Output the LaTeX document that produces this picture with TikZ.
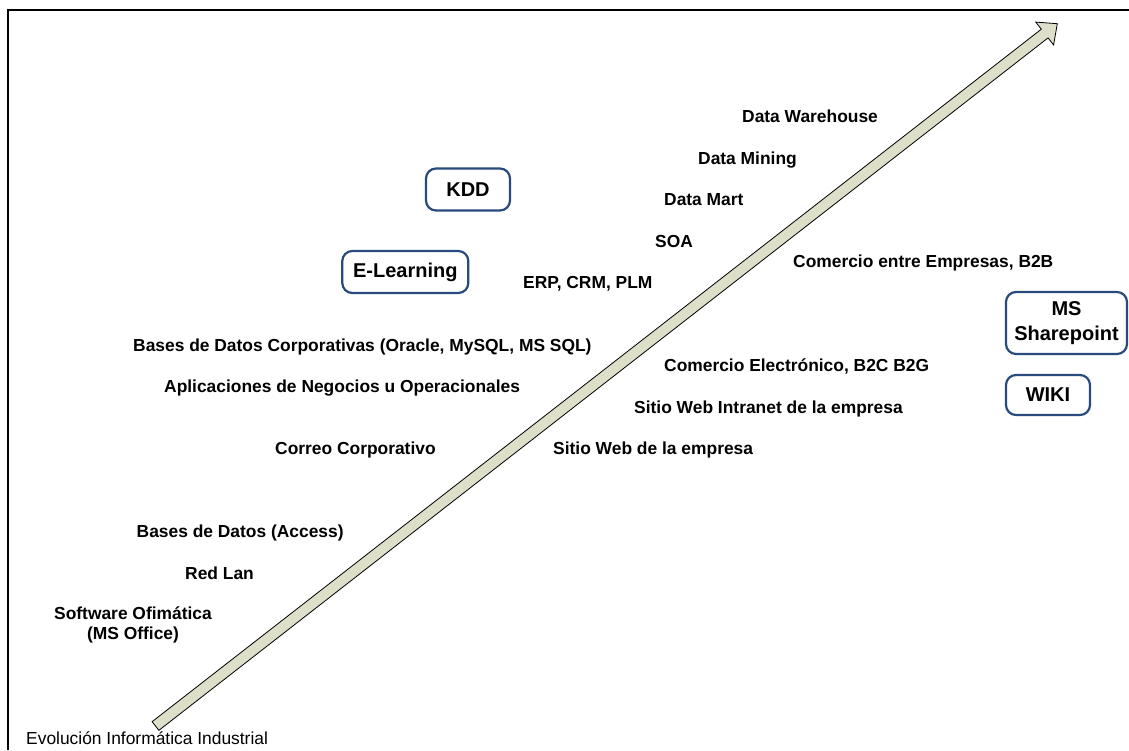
\documentclass[tikz,border=0pt]{standalone}
\usepackage{fontspec}
\setmainfont{Liberation Sans}
\usetikzlibrary{calc}
\definecolor{boxblue}{RGB}{40,74,125}
\definecolor{arrowfill}{RGB}{221,223,200}
\begin{document}
\begin{tikzpicture}[x=1pt,y=-1pt,
  lbl/.style={font=\bfseries\fontsize{17.4}{19.5}\selectfont, inner sep=0pt, anchor=base west},
  plainlbl/.style={font=\fontsize{17.4}{19.5}\selectfont, inner sep=0pt, anchor=base west},
  rbox/.style={draw=boxblue, line width=2.2pt, rounded corners=10pt, align=center,
    font=\bfseries\fontsize{20}{25}\selectfont, inner sep=0pt},
  bigarrow/.style={fill=arrowfill, draw=black, line width=0.8pt, line join=miter}]
\useasboundingbox (0,0) rectangle (1129,750);
% frame
\draw[line width=2pt] (7.5,750) -- (7.5,10) -- (1129,10);
% big arrow
\coordinate (tail) at (155.5,726);
\coordinate (tip) at (1057.3,23.7);
\coordinate (hb) at ($(tip)!16pt!(tail)$);
\draw[bigarrow] ($(tail)!5.5pt!90:(tip)$) -- ($(hb)!5.5pt!-90:(tail)$) -- ($(hb)!14.5pt!-90:(tail)$)
  -- (tip) -- ($(hb)!14.5pt!90:(tail)$) -- ($(hb)!5.5pt!90:(tail)$) -- ($(tail)!5.5pt!-90:(tip)$) -- cycle;
% labels
\node[lbl] (dw) at (742,122) {Data Warehouse};
\node[lbl] (dmin) at (698,164) {Data Mining};
\node[lbl] (dmart) at (664,205) {Data Mart};
\node[lbl] (soa) at (655,247) {SOA};
\node[lbl] (erp) at (523,288) {ERP, CRM, PLM};
\node[lbl] (b2b) at (793,267) {Comercio entre Empresas, B2B};
\node[lbl] (bdc) at (133,351) {Bases de Datos Corporativas (Oracle, MySQL, MS SQL)};
\node[lbl] (apl) at (164,392) {Aplicaciones de Negocios u Operacionales};
\node[lbl] (b2c) at (664,371) {Comercio Electrónico, B2C B2G};
\node[lbl] (intra) at (634,413) {Sitio Web Intranet de la empresa};
\node[lbl] (correo) at (275,454) {Correo Corporativo};
\node[lbl] (web) at (553,454) {Sitio Web de la empresa};
\node[lbl] (acc) at (136.5,537) {Bases de Datos (Access)};
\node[lbl] (lan) at (185,579) {Red Lan};
\node[lbl, anchor=center, align=center] (ofi) at (133,625) {Software Ofimática\\(MS Office)};
\node[plainlbl] (evo) at (26,744) {Evolución Informática Industrial};
% boxes
\node[rbox, minimum width=84pt, minimum height=42pt] (kdd) at (468,189.5) {KDD};
\node[rbox, minimum width=126pt, minimum height=42pt] (elearn) at (405.3,272) {E-Learning};
\node[rbox, minimum width=121pt, minimum height=62pt] (msp) at (1066.5,323) {MS\\Sharepoint};
\node[rbox, minimum width=84pt, minimum height=40pt] (wiki) at (1048,395) {WIKI};
\end{tikzpicture}
\end{document}
